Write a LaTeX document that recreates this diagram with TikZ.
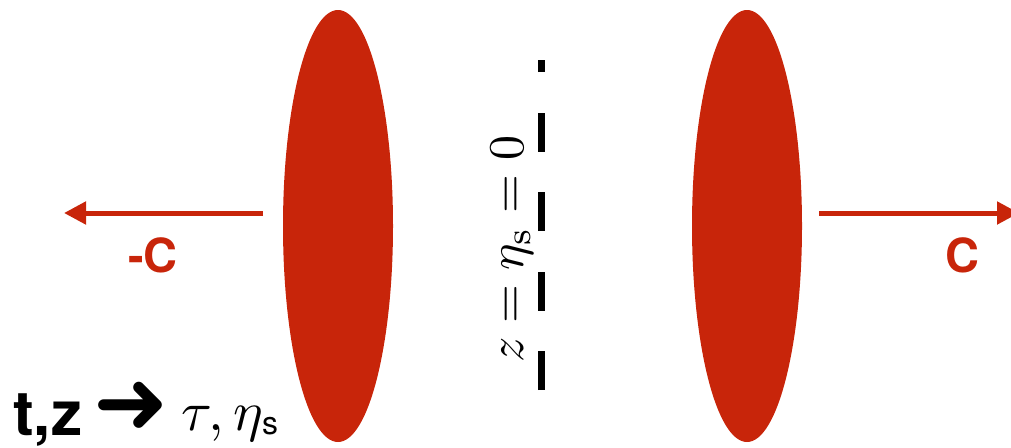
\documentclass[tikz,border=0pt]{standalone}
\usepackage{graphicx}
\usepackage{fontspec}
\newfontfamily\heros{TeX Gyre Heros}
\newfontfamily\dejavu{DejaVu Sans}
\usetikzlibrary{arrows.meta,shapes.geometric}
\definecolor{nucred}{HTML}{C8250A}
\tikzset{
  nucleus/.style={ellipse, fill=nucred, draw=none, minimum width=110pt, minimum height=432pt, inner sep=0pt},
  velarrow/.style={draw=nucred, line width=5pt, -{Triangle[length=22pt,width=22pt]}},
  vellabel/.style={text=nucred, font=\heros\bfseries\fontsize{47}{56}\selectfont, inner sep=0pt},
  midline/.style={line width=7pt, dash pattern=on 39pt off 40.5pt},
  axislabel/.style={rotate=90, anchor=base, inner sep=0pt},
  bottomtext/.style={inner sep=0pt, anchor=base west}
}
\begin{document}
\begin{tikzpicture}[x=1pt,y=-1pt]
\clip (0,0) rectangle (1011,447);
\useasboundingbox (0,0) rectangle (1011,447);
% nuclei
\node[nucleus] (nucL) at (338,226) {};
\node[nucleus] (nucR) at (747,226) {};
% velocity arrows
\coordinate (lstart) at (263,213);
\coordinate (ltip) at (64,213);
\coordinate (rstart) at (819,213);
\coordinate (rtip) at (1019,213);
\draw[velarrow] (lstart) -- (ltip);
\draw[velarrow] (rstart) -- (rtip);
\node[vellabel] (lminc) at (153,255) {-C};
\node[vellabel] (lc) at (962,255) {C};
% mid-plane dashed line
\coordinate (mbot) at (541,390);
\coordinate (mtop) at (541,60);
\draw[midline] (mbot) -- (mtop);
\node[axislabel] (zlab) at (523,249) {\scalebox{5}{$z=\eta_{\mathrm{s}}=0$}};
% bottom text
\node[bottomtext, font=\heros\bfseries\fontsize{62}{72}\selectfont] (tz) at (13,435) {t,z};
\node[inner sep=0pt, font=\dejavu\fontsize{90}{100}\selectfont] (harr) at (131,408) {➜};
\node[bottomtext] (taueta) at (181,430) {\scalebox{5.6}{$\tau,\eta$}};
\node[bottomtext, font=\heros\fontsize{32}{38}\selectfont] (ssub) at (262,434) {s};
\end{tikzpicture}
\end{document}
